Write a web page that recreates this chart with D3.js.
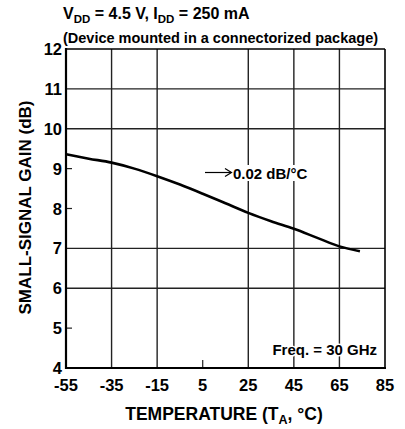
<!DOCTYPE html>
<html><head><meta charset="utf-8">
<script src="https://cdn.jsdelivr.net/npm/d3@7"></script>
<style>
html,body{margin:0;padding:0;background:#fff;}
text{font-family:"Liberation Sans",Arial,sans-serif;font-weight:bold;fill:#000;}
</style></head>
<body>
<svg id="chart" width="405" height="429"></svg>
<script>
const temps = [-55,-45,-35,-25,-15,-5,5,15,25,35,45,55,65,74];
const gain  = [9.36,9.25,9.15,9.0,8.81,8.6,8.37,8.13,7.89,7.68,7.49,7.27,7.05,6.93];
const xTicks = [-55,-35,-15,5,25,45,65,85];
const yTicks = [4,5,6,7,8,9,10,11,12];
const xGrid = [-35,-15,25,45,65];
const xShort = [5];
const yGrid = [6,7,10,11];
const yShort = [5,8,9];

const svg = d3.select("#chart");
const L=66, R=385, T=49, B=368;
const x = d3.scaleLinear().domain([-55,85]).range([L,R]);
const y = d3.scaleLinear().domain([4,12]).range([B,T]);

const g = svg.append("g");
g.selectAll(".vg").data(xGrid).enter().append("line")
 .attr("x1",d=>x(d)).attr("x2",d=>x(d)).attr("y1",T).attr("y2",B)
 .attr("stroke","#222").attr("stroke-width",1.4);
g.selectAll(".vs").data(xShort).enter().append("line")
 .attr("x1",d=>x(d)).attr("x2",d=>x(d)).attr("y1",B).attr("y2",B-8)
 .attr("stroke","#222").attr("stroke-width",1.2);
g.selectAll(".hg").data(yGrid).enter().append("line")
 .attr("x1",L).attr("x2",R).attr("y1",d=>y(d)).attr("y2",d=>y(d))
 .attr("stroke","#222").attr("stroke-width",1.4);
g.selectAll(".hs").data(yShort).enter().append("line")
 .attr("x1",L).attr("x2",L+6).attr("y1",d=>y(d)).attr("y2",d=>y(d))
 .attr("stroke","#222").attr("stroke-width",1.2);

// frame
g.append("line").attr("x1",L).attr("x2",R).attr("y1",T).attr("y2",T).attr("stroke","#000").attr("stroke-width",1.6);
g.append("line").attr("x1",R).attr("x2",R).attr("y1",T).attr("y2",B).attr("stroke","#000").attr("stroke-width",1.6);
g.append("line").attr("x1",L).attr("x2",L).attr("y1",T-1).attr("y2",B+1).attr("stroke","#000").attr("stroke-width",2.2);
g.append("line").attr("x1",L-1).attr("x2",R+1).attr("y1",B).attr("y2",B).attr("stroke","#000").attr("stroke-width",2.2);

// curve
const data = temps.map((t,i)=>[t,gain[i]]);
g.append("path").datum(data)
 .attr("d", d3.line().x(d=>x(d[0])).y(d=>y(d[1])).curve(d3.curveMonotoneX))
 .attr("fill","none").attr("stroke","#000").attr("stroke-width",2.6);

// tick labels
g.selectAll(".yl").data(yTicks).enter().append("text")
 .attr("x",L-4).attr("y",d=>y(d)+6).attr("text-anchor","end")
 .attr("font-size",16.5).text(d=>d);
g.selectAll(".xl").data(xTicks).enter().append("text")
 .attr("x",d=>x(d)).attr("y",391).attr("text-anchor","middle")
 .attr("font-size",16.5).text(d=>d);

// annotation
const ann = g.append("g");
ann.append("rect").attr("x",233).attr("y",165).attr("width",76).attr("height",16).attr("fill","#fff");
ann.append("line").attr("x1",205).attr("x2",231).attr("y1",172.5).attr("y2",172.5).attr("stroke","#000").attr("stroke-width",1.2);
ann.append("path").attr("d","M225,168.5 L231.5,172.5 L225,176.5").attr("fill","none").attr("stroke","#000").attr("stroke-width",1.2);
ann.append("text").attr("x",233).attr("y",178.5).attr("font-size",15).text("0.02 dB/°C");

const fq = g.append("g");
fq.append("text").attr("x",377).attr("y",354.5).attr("text-anchor","end").attr("font-size",15)
 .attr("stroke","#fff").attr("stroke-width",3).attr("paint-order","stroke").text("Freq. = 30 GHz");

// titles
const t1 = svg.append("text").attr("x",63).attr("y",19).attr("font-size",16);
t1.append("tspan").text("V");
t1.append("tspan").attr("font-size",11.5).attr("dy",3.5).text("DD");
t1.append("tspan").attr("dy",-3.5).text(" = 4.5 V, I");
t1.append("tspan").attr("font-size",11.5).attr("dy",3.5).text("DD");
t1.append("tspan").attr("dy",-3.5).text(" = 250 mA");
svg.append("text").attr("x",63).attr("y",42.5).attr("font-size",14.5).text("(Device mounted in a connectorized package)");

const xl = svg.append("text").attr("x",224).attr("y",420).attr("text-anchor","middle").attr("font-size",17.5);
xl.append("tspan").text("TEMPERATURE (T");
xl.append("tspan").attr("font-size",12.5).attr("dy",3.5).text("A");
xl.append("tspan").attr("dy",-3.5).text(", °C)");

svg.append("text").attr("transform","translate(31,207.5) rotate(-90)").attr("text-anchor","middle")
 .attr("font-size",17).text("SMALL-SIGNAL GAIN (dB)");
</script>
</body></html>
